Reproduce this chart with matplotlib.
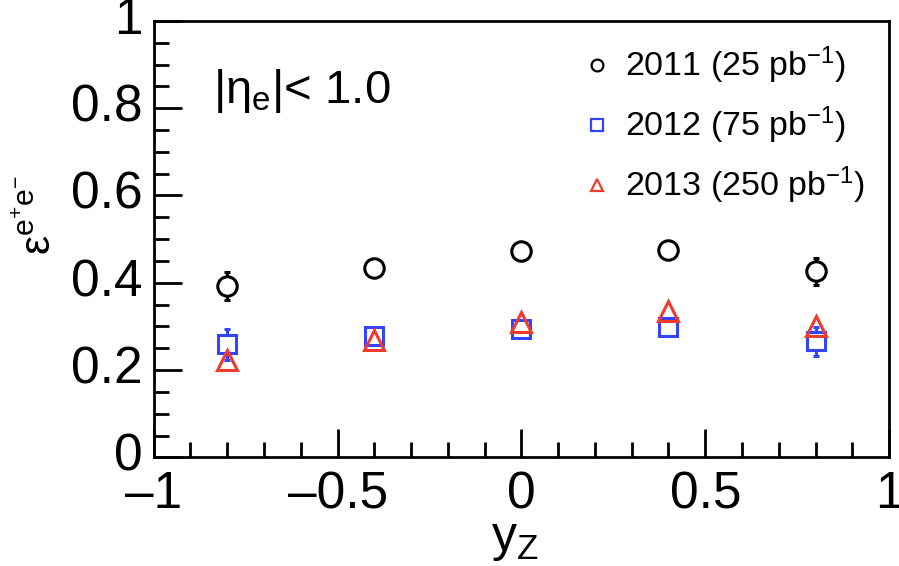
import numpy as np
import matplotlib
matplotlib.use("Agg")
import matplotlib.pyplot as plt
from matplotlib.ticker import MultipleLocator

plt.rcParams['font.family'] = ['Liberation Sans', 'DejaVu Sans']
plt.rcParams['mathtext.fontset'] = 'custom'
plt.rcParams['mathtext.rm'] = 'Liberation Sans'
plt.rcParams['mathtext.it'] = 'Liberation Sans'

# data
y_z = [-0.8, -0.4, 0.0, 0.4, 0.8]

eff_2011 = [0.392, 0.434, 0.472, 0.474, 0.426]
err_2011 = [0.032, 0.012, 0.012, 0.012, 0.030]

eff_2012 = [0.259, 0.279, 0.294, 0.299, 0.266]
err_2012 = [0.035, 0.015, 0.012, 0.012, 0.033]

eff_2013 = [0.222, 0.268, 0.309, 0.335, 0.301]

labels = ["2011 (25 pb$^{-1}$)", "2012 (75 pb$^{-1}$)", "2013 (250 pb$^{-1}$)"]

blue = '#3344ff'
red = '#ee3b2b'

fig = plt.figure(figsize=(8.99, 5.66), dpi=100)
ax = fig.add_axes([0.171, 0.192, 0.818, 0.771])

# error bars first, markers (white inside) over them so bars show only outside
ax.errorbar(y_z, eff_2011, yerr=err_2011, fmt='none', ecolor='black',
            elinewidth=2.2, capsize=2.5, capthick=2.2, zorder=2)
ax.errorbar(y_z, eff_2012, yerr=err_2012, fmt='none', ecolor=blue,
            elinewidth=2.2, capsize=2.5, capthick=2.2, zorder=2)
ax.plot(y_z, eff_2011, 'o', ms=14, mfc='white', mec='black', mew=2.2, zorder=3)
ax.plot(y_z, eff_2012, 's', ms=13, mfc='white', mec=blue, mew=2.2, zorder=3)
ax.plot(y_z, eff_2013, '^', ms=15, mfc='none', mec=red, mew=2.2, zorder=4)

ax.set_xlim(-1, 1)
ax.set_ylim(0, 1)
ax.xaxis.set_major_locator(MultipleLocator(0.5))
ax.xaxis.set_minor_locator(MultipleLocator(0.1))
ax.yaxis.set_major_locator(MultipleLocator(0.2))
ax.yaxis.set_minor_locator(MultipleLocator(0.05))
ax.set_xticklabels([])
ax.set_yticklabels([])
ax.tick_params(which='both', direction='in', top=False, right=False, width=2)
ax.tick_params(which='major', length=20)
ax.tick_params(which='minor', length=11)
for s in ax.spines.values():
    s.set_linewidth(2)

for v in [-1, -0.5, 0, 0.5, 1]:
    txt = '0' if v == 0 else ('%g' % v).replace('-', '\u2013')
    ax.text(v, -0.03, txt, transform=ax.transData, ha='center', va='top', fontsize=37)
for v in [0, 0.2, 0.4, 0.6, 0.8, 1]:
    ax.text(-0.015, v, '%g' % v, transform=ax.get_yaxis_transform(), ha='right',
            va='center', fontsize=37)

fig.text(0.573, 0.005, r'y$_{\mathregular{Z}}$', ha='center', va='bottom', fontsize=36)
fig.text(0.043, 0.62, r'$\mathregular{\varepsilon^{e^{+}e^{-}}}$', rotation=90,
         ha='center', va='center', fontsize=31)

fig.text(0.237, 0.818, r'|$\mathregular{\eta_e}$|< 1.0', fontsize=34, ha='left',
         va='baseline')

# legend by hand
leg_y = [0.885, 0.779, 0.673]
leg_styles = [('o', 'black', 8.5), ('s', blue, 8), ('^', red, 8.5)]
for yy, lab, (m, c, s) in zip(leg_y, labels, leg_styles):
    fig.lines.append(plt.Line2D([0.664], [yy], marker=m, ms=s, mfc='none', mec=c,
                                mew=1.6, transform=fig.transFigure, linestyle='none'))
    fig.text(0.695, yy, lab, fontsize=24.5, ha='left', va='center')

fig.savefig('out.png', dpi=100)
